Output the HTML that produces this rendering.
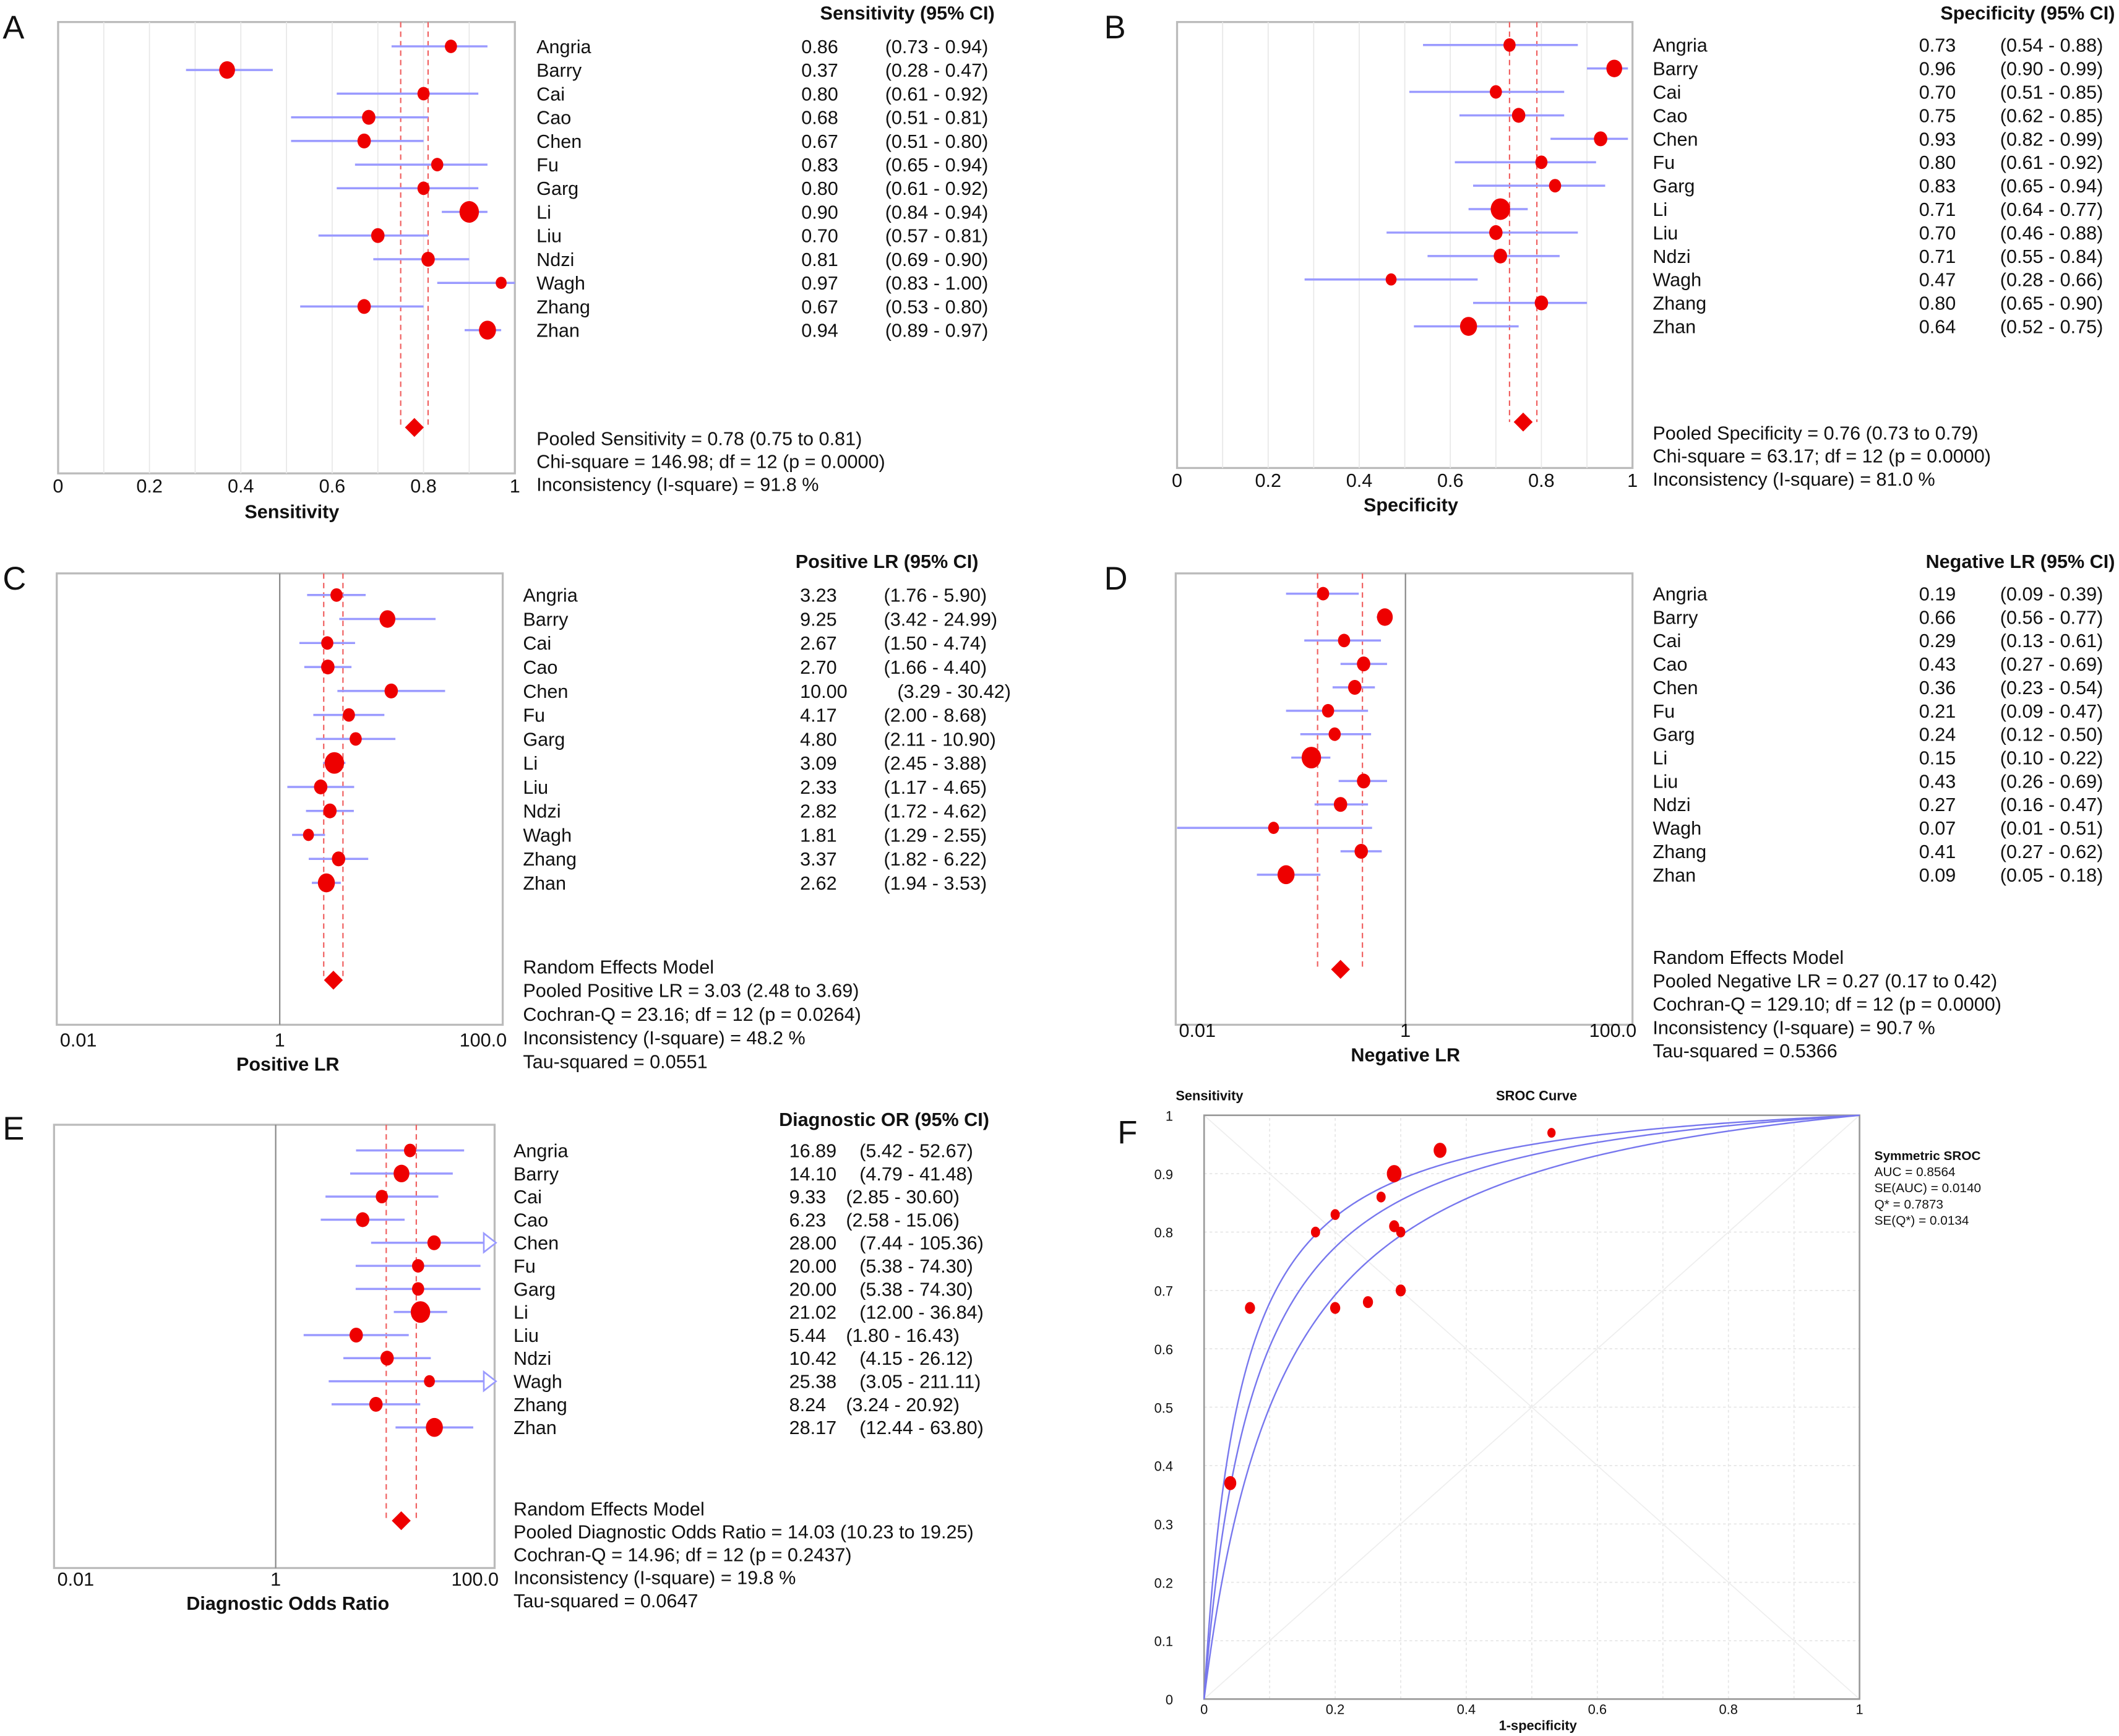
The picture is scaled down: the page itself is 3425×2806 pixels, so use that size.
<!DOCTYPE html>
<html><head><meta charset="utf-8"><style>
html,body{margin:0;padding:0;background:#fff}
svg{display:block}
text{font-family:"Liberation Sans",sans-serif;fill:#111}
</style></head><body>
<svg id="fig" width="3425" height="2806" viewBox="0 0 1568 1284" xmlns="http://www.w3.org/2000/svg"></svg>
<script>
const studies=["Angria","Barry","Cai","Cao","Chen","Fu","Garg","Li","Liu","Ndzi","Wagh","Zhang","Zhan"];
const weights=[5,6.5,5,5.5,5.5,5,5,8,5.5,5.5,4.5,5.5,7];
const sensEst=[0.86,0.37,0.80,0.68,0.67,0.83,0.80,0.90,0.70,0.81,0.97,0.67,0.94];
const sensLo=[0.73,0.28,0.61,0.51,0.51,0.65,0.61,0.84,0.57,0.69,0.83,0.53,0.89];
const sensHi=[0.94,0.47,0.92,0.81,0.80,0.94,0.92,0.94,0.81,0.90,1.00,0.80,0.97];
const sensPooled=[0.78,0.75,0.81];
const specEst=[0.73,0.96,0.70,0.75,0.93,0.80,0.83,0.71,0.70,0.71,0.47,0.80,0.64];
const specLo=[0.54,0.90,0.51,0.62,0.82,0.61,0.65,0.64,0.46,0.55,0.28,0.65,0.52];
const specHi=[0.88,0.99,0.85,0.85,0.99,0.92,0.94,0.77,0.88,0.84,0.66,0.90,0.75];
const specPooled=[0.76,0.73,0.79];
const plrEst=[3.23,9.25,2.67,2.70,10.00,4.17,4.80,3.09,2.33,2.82,1.81,3.37,2.62];
const plrLo=[1.76,3.42,1.50,1.66,3.29,2.00,2.11,2.45,1.17,1.72,1.29,1.82,1.94];
const plrHi=[5.90,24.99,4.74,4.40,30.42,8.68,10.90,3.88,4.65,4.62,2.55,6.22,3.53];
const plrPooled=[3.03,2.48,3.69];
const nlrEst=[0.19,0.66,0.29,0.43,0.36,0.21,0.24,0.15,0.43,0.27,0.07,0.41,0.09];
const nlrLo=[0.09,0.56,0.13,0.27,0.23,0.09,0.12,0.10,0.26,0.16,0.01,0.27,0.05];
const nlrHi=[0.39,0.77,0.61,0.69,0.54,0.47,0.50,0.22,0.69,0.47,0.51,0.62,0.18];
const nlrPooled=[0.27,0.17,0.42];
const dorEst=[16.89,14.10,9.33,6.23,28.00,20.00,20.00,21.02,5.44,10.42,25.38,8.24,28.17];
const dorLo=[5.42,4.79,2.85,2.58,7.44,5.38,5.38,12.00,1.80,4.15,3.05,3.24,12.44];
const dorHi=[52.67,41.48,30.60,15.06,105.36,74.30,74.30,36.84,16.43,26.12,211.11,20.92,63.80];
const dorPooled=[14.03,10.23,19.25];
const srocFpr=[0.27,0.04,0.30,0.25,0.07,0.20,0.17,0.29,0.30,0.29,0.53,0.20,0.36];
const srocSens=[0.86,0.37,0.80,0.68,0.67,0.83,0.80,0.90,0.70,0.81,0.97,0.67,0.94];
const srocDOR=[19,13.7,9];

const NS="http://www.w3.org/2000/svg";
const svg=document.getElementById('fig');
function mk(tag,attrs,parent,txt){const e=document.createElementNS(NS,tag);for(const k in attrs)e.setAttribute(k,attrs[k]);if(txt!==undefined)e.textContent=txt;(parent||svg).appendChild(e);return e;}
function fmt(v){return v.toFixed(2);}

function forest(cfg){
  const g=mk('g',{});
  
  
  const t=mk('text',{x:cfg.lx,y:cfg.ly,'font-size':24,'font-weight':300,fill:'#222'},g,cfg.letter);
  
  const b=mk('rect',{x:cfg.x0,y:cfg.top,width:cfg.x1-cfg.x0,height:cfg.bottom-cfg.top,fill:'none',stroke:'#bbb','stroke-width':1.5},g);
  
  const sx=cfg.scale;
  if(cfg.grid){for(let i=1;i<10;i++){const l=mk('line',{x1:sx(i/10),x2:sx(i/10),y1:cfg.top,y2:cfg.bottom,stroke:'#e8e8e8','stroke-width':0.8},g);}}
  if(cfg.refLine!==undefined){const l=mk('line',{x1:sx(cfg.refLine),x2:sx(cfg.refLine),y1:cfg.top,y2:cfg.bottom,stroke:'#888','stroke-width':1},g);}
  const P=cfg.pooled;
  [P[1],P[2]].forEach(v=>{const l=mk('line',{x1:sx(v),x2:sx(v),y1:cfg.top,y2:cfg.dy,stroke:'#f06060','stroke-width':1,'stroke-dasharray':'4,3'},g);});
  const clamp=x=>Math.max(cfg.x0,Math.min(cfg.x1,x));
  studies.forEach((s,i)=>{
    const y=cfg.row0+i*cfg.step;
    const xl=clamp(sx(cfg.lo[i])),xhRaw=sx(cfg.hi[i]),xh=clamp(xhRaw);
    const l=mk('line',{x1:xl,x2:xh,y1:y,y2:y,stroke:'#9a9aff','stroke-width':1.6},g);
    
    if(xhRaw>cfg.x1+1){const a=mk('path',{d:`M${cfg.x1-8},${y-7} L${cfg.x1+1},${y} L${cfg.x1-8},${y+7} Z`,fill:'#fff',stroke:'#9a9aff','stroke-width':1.2},g);}
    const w=weights[i];
    const c=mk('ellipse',{cx:sx(cfg.est[i]),cy:y,rx:w*0.9,ry:w,fill:'#ee0000'},g);
    
    const n=mk('text',{x:cfg.nx,y:y+5,'font-size':14},g,s);
    const v=mk('text',{x:cfg.vx,y:y+5,'font-size':14},g,fmt(cfg.est[i]));
    const ci=mk('text',{x:cfg.cx+(cfg.est[i]>=10?10:0),y:y+5,'font-size':14},g,'('+fmt(cfg.lo[i])+' - '+fmt(cfg.hi[i])+')');
  });
  const px=sx(P[0]);
  const d=mk('path',{d:`M${px-7},${cfg.dy} L${px},${cfg.dy-7} L${px+7},${cfg.dy} L${px},${cfg.dy+7} Z`,fill:'#ee0000'},g);
  
  const h=mk('text',{x:cfg.hx,y:cfg.hy,'font-size':14,'font-weight':'bold','text-anchor':'end'},g,cfg.header);
  cfg.ticks.forEach((tk,j)=>{
    let anchor='middle',x=sx(tk);
    if(cfg.log){ if(j===0){anchor='middle';x=cfg.x0+16;} else if(j===cfg.ticks.length-1){anchor='end';x=cfg.x1+3;} }
    const tt=mk('text',{x:x,y:cfg.tickY,'font-size':14,'text-anchor':anchor},g,cfg.tickLabels[j]);});
  const at=mk('text',{x:cfg.titleX,y:cfg.titleY,'font-size':14,'font-weight':'bold','text-anchor':'middle'},g,cfg.title);
  cfg.stats.forEach((s,j)=>{const st=mk('text',{x:cfg.nx,y:cfg.statY+j*cfg.statStep,'font-size':14},g,s);});
}
const lin=(a,b)=>v=>a+(b-a)*v;
const logS=(one,dec)=>v=>one+Math.log10(v)*dec;

forest({id:'sensitivity',letter:'A',lx:2,ly:28,x0:43,x1:381,top:16,bottom:350,scale:lin(43,381),grid:true,row0:34,step:17.5,dy:316,
 est:sensEst,lo:sensLo,hi:sensHi,pooled:sensPooled,nx:397,vx:593,cx:655,hx:736,hy:14,header:'Sensitivity (95% CI)',
 ticks:[0,0.2,0.4,0.6,0.8,1],tickLabels:['0','0.2','0.4','0.6','0.8','1'],tickY:364,title:'Sensitivity',titleX:216,titleY:383,
 stats:['Pooled Sensitivity = 0.78 (0.75 to 0.81)','Chi-square = 146.98; df =  12 (p = 0.0000)','Inconsistency (I-square) = 91.8 %'],statY:329,statStep:17});
forest({id:'specificity',letter:'B',lx:817,ly:28,x0:871,x1:1208,top:16,bottom:346,scale:lin(871,1208),grid:true,row0:33,step:17.35,dy:312,
 est:specEst,lo:specLo,hi:specHi,pooled:specPooled,nx:1223,vx:1420,cx:1480,hx:1565,hy:14,header:'Specificity (95% CI)',
 ticks:[0,0.2,0.4,0.6,0.8,1],tickLabels:['0','0.2','0.4','0.6','0.8','1'],tickY:360,title:'Specificity',titleX:1044,titleY:378,
 stats:['Pooled Specificity = 0.76 (0.73 to 0.79)','Chi-square = 63.17; df =  12 (p = 0.0000)','Inconsistency (I-square) = 81.0 %'],statY:325,statStep:17});
forest({id:'positive-lr',letter:'C',lx:2,ly:436,x0:42,x1:372,top:424,bottom:758,scale:logS(207,82.5),log:true,refLine:1,row0:440,step:17.75,dy:725,
 est:plrEst,lo:plrLo,hi:plrHi,pooled:plrPooled,nx:387,vx:592,cx:654,hx:724,hy:420,header:'Positive LR (95% CI)',
 ticks:[0.01,1,100],tickLabels:['0.01','1','100.0'],tickY:774,title:'Positive LR',titleX:213,titleY:792,
 stats:['Random Effects Model','Pooled Positive LR = 3.03 (2.48 to 3.69)','Cochran-Q = 23.16; df =  12 (p = 0.0264)','Inconsistency (I-square) = 48.2 %','Tau-squared = 0.0551'],statY:720,statStep:17.5});
forest({id:'negative-lr',letter:'D',lx:817,ly:436,x0:870,x1:1208,top:424,bottom:758,scale:logS(1040,84.5),log:true,refLine:1,row0:439,step:17.33,dy:717,
 est:nlrEst,lo:nlrLo,hi:nlrHi,pooled:nlrPooled,nx:1223,vx:1420,cx:1480,hx:1565,hy:420,header:'Negative LR (95% CI)',
 ticks:[0.01,1,100],tickLabels:['0.01','1','100.0'],tickY:767,title:'Negative LR',titleX:1040,titleY:785,
 stats:['Random Effects Model','Pooled Negative LR = 0.27 (0.17 to 0.42)','Cochran-Q = 129.10; df =  12 (p = 0.0000)','Inconsistency (I-square) = 90.7 %','Tau-squared = 0.5366'],statY:713,statStep:17.3});
forest({id:'diagnostic-or',letter:'E',lx:2,ly:843,x0:40,x1:366,top:832,bottom:1160,scale:logS(204,81),log:true,refLine:1,row0:851,step:17.08,dy:1125,
 est:dorEst,lo:dorLo,hi:dorHi,pooled:dorPooled,nx:380,vx:584,cx:626,hx:732,hy:833,header:'Diagnostic OR (95% CI)',
 ticks:[0.01,1,100],tickLabels:['0.01','1','100.0'],tickY:1173,title:'Diagnostic Odds Ratio',titleX:213,titleY:1191,
 stats:['Random Effects Model','Pooled Diagnostic Odds Ratio = 14.03 (10.23 to 19.25)','Cochran-Q = 14.96; df =  12 (p = 0.2437)','Inconsistency (I-square) = 19.8 %','Tau-squared = 0.0647'],statY:1121,statStep:17});

// Panel F SROC
(function(){
  const g=mk('g',{});
  
  const X=lin(891,1376),Y=v=>1257-432*v;
  const L=mk('text',{x:827,y:846,'font-size':24,'font-weight':300,fill:'#222'},g,'F');
  for(let i=1;i<10;i++){
    const a=mk('line',{x1:X(i/10),x2:X(i/10),y1:Y(0),y2:Y(1),stroke:'#e6e6e6','stroke-width':0.8,'stroke-dasharray':'2,2'},g);
    const b=mk('line',{x1:X(0),x2:X(1),y1:Y(i/10),y2:Y(i/10),stroke:'#e6e6e6','stroke-width':0.8,'stroke-dasharray':'2,2'},g);
  }
  const d1=mk('line',{x1:X(0),y1:Y(1),x2:X(1),y2:Y(0),stroke:'#eeeeee','stroke-width':0.8},g);
  const d2=mk('line',{x1:X(0),y1:Y(0),x2:X(1),y2:Y(1),stroke:'#eeeeee','stroke-width':0.8},g);
  const fr=mk('path',{d:`M${X(0)},${Y(1)} L${X(1)},${Y(1)} L${X(1)},${Y(0)} L${X(0)},${Y(0)} Z`,fill:'none',stroke:'#999','stroke-width':1.2},g);
  for(let i=0;i<=10;i++){
    const tl=mk('text',{x:868,y:Y(i/10)+4,'font-size':10,'text-anchor':'end'},g,i===0?'0':i===10?'1':(i/10).toFixed(1));
    if(i%2===0){const xl=mk('text',{x:X(i/10),y:1268,'font-size':10,'text-anchor':'middle'},g,i===0?'0':i===10?'1':(i/10).toFixed(1));}
  }
  srocDOR.forEach(D=>{
    let pts=[];for(let k=0;k<=400;k++){const f=Math.pow(k/400,2.2);const o=f/(1-f+1e-12)*D;const s=f>=1?1:o/(1+o);pts.push(X(f).toFixed(2)+','+Y(s).toFixed(2));}
    const c=mk('polyline',{points:pts.join(' '),fill:'none',stroke:'#7777ee','stroke-width':1.1},g);
  });
  srocFpr.forEach((f,i)=>{const w=weights[i]*0.8;const p=mk('ellipse',{cx:X(f),cy:Y(srocSens[i]),rx:w*0.85,ry:w,fill:'#ee0000'},g);});
  const t1=mk('text',{x:870,y:814,'font-size':10,'font-weight':'bold'},g,'Sensitivity');
  const t2=mk('text',{x:1137,y:814,'font-size':10,'font-weight':'bold','text-anchor':'middle'},g,'SROC Curve');
  const t3=mk('text',{x:1138,y:1280,'font-size':10,'font-weight':'bold','text-anchor':'middle'},g,'1-specificity');
  const leg=['Symmetric SROC','AUC = 0.8564','SE(AUC) = 0.0140','Q* = 0.7873','SE(Q*) = 0.0134'];
  leg.forEach((s,j)=>{const e=mk('text',{x:1387,y:858+j*12,'font-size':9.5,'font-weight':j===0?'bold':'normal'},g,s);});
})();
</script>
</body></html>
